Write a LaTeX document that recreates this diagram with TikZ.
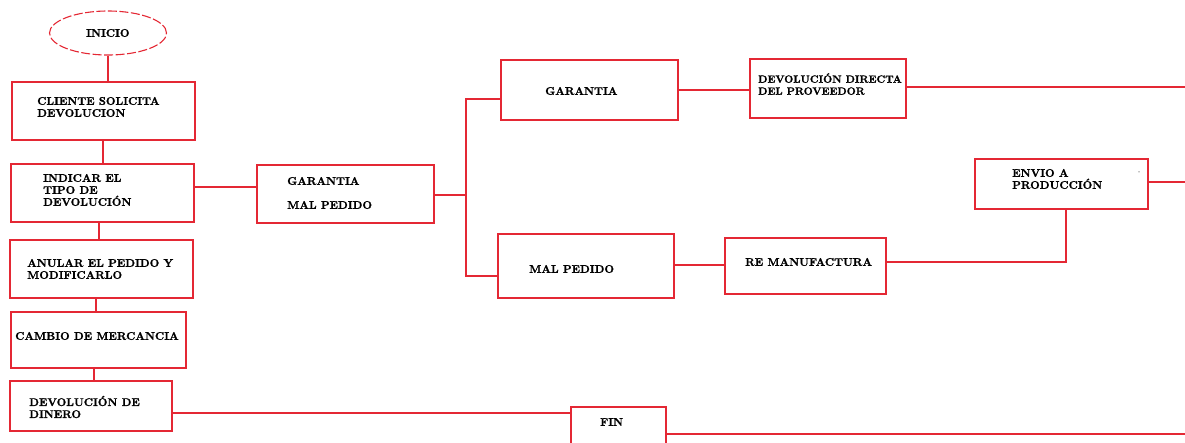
\documentclass[tikz,border=0pt]{standalone}
\usepackage{fontspec}
\usetikzlibrary{shapes.geometric}
\newfontfamily\boxfont{lmroman10-bold}[Extension=.otf,FakeBold=1.3]
\definecolor{flowred}{RGB}{228,40,52}
\begin{document}
\begin{tikzpicture}[x=1pt,y=-1pt,
  box/.style={draw=flowred,line width=1.6pt,rectangle,inner sep=0pt,anchor=north west},
  txt/.style={anchor=west,inner sep=0pt,align=left,font=\boxfont\fontsize{11.1}{12}\selectfont},
  link/.style={draw=flowred,line width=1.6pt}]
\useasboundingbox (0,0) rectangle (1185,442);
\clip (0,0) rectangle (1185,442);
% start
\node[draw=flowred,dash pattern=on 9pt off 2.5pt,line width=1.1pt,ellipse,minimum width=117pt,minimum height=44pt] (inicio) at (108,33) {};
\node[txt] (tinicio) at (86,33) {INICIO};
% left column
\node[box,minimum width=183pt,minimum height=58pt] (cliente) at (11,81) {};
\node[txt] (tcliente) at (37,107) {CLIENTE SOLICITA\\DEVOLUCION};
\node[box,minimum width=183pt,minimum height=58pt] (indicar) at (10,163) {};
\node[txt] (tindicar) at (43,190) {INDICAR EL\\TIPO DE\\DEVOLUCIÓN};
\node[box,minimum width=183pt,minimum height=58pt] (anular) at (9,239) {};
\node[txt] (tanular) at (27,269) {ANULAR EL PEDIDO Y\\MODIFICARLO};
\node[box,minimum width=175pt,minimum height=56pt] (cambio) at (10,311) {};
\node[txt] (tcambio) at (15,336) {CAMBIO DE MERCANCIA};
\node[box,minimum width=162pt,minimum height=50pt] (dinero) at (9,380) {};
\node[txt] (tdinero) at (29,407) {DEVOLUCIÓN DE\\DINERO};
\node[box,minimum width=95pt,minimum height=50pt] (fin) at (570,406) {};
\node[txt] (tfin) at (600,422) {FIN};
% middle
\node[box,minimum width=177pt,minimum height=58pt] (tipo) at (256,164) {};
\node[txt,font=\boxfont\fontsize{11.1}{24}\selectfont] (ttipo) at (287,193) {GARANTIA\\MAL PEDIDO};
\node[box,minimum width=177pt,minimum height=60pt] (garantia) at (500,59) {};
\node[txt] (tgarantia) at (545,91) {GARANTIA};
\node[box,minimum width=176pt,minimum height=64pt] (malpedido) at (497,233) {};
\node[txt] (tmalpedido) at (529,269) {MAL PEDIDO};
% right
\node[box,minimum width=156pt,minimum height=59pt] (directa) at (749,58) {};
\node[txt,font=\boxfont\fontsize{10.5}{12}\selectfont] (tdirecta) at (758,84) {DEVOLUCIÓN DIRECTA\\DEL PROVEEDOR};
\node[box,minimum width=161pt,minimum height=56pt] (manufactura) at (724,237) {};
\node[txt] (tmanufactura) at (745,262) {RE MANUFACTURA};
\node[box,minimum width=173pt,minimum height=50pt] (envio) at (974,158) {};
\node[txt] (tenvio) at (1012,179) {ENVIO A\\PRODUCCIÓN};
\node[txt,font=\tiny] (dot) at (1138,173) {-};
% loose ends leaving the page
\coordinate (outA) at (1185,87);
\coordinate (outB) at (1185,182);
\coordinate (outC) at (1185,434);
\coordinate (split) at (466,195);
% connectors
\draw[link] (inicio.south) -- (inicio.south |- cliente.north);
\draw[link] (cliente.south -| 103,0) -- (indicar.north -| 103,0);
\draw[link] (indicar.south -| 99,0) -- (anular.north -| 99,0);
\draw[link] (anular.south -| 96,0) -- (cambio.north -| 96,0);
\draw[link] (cambio.south -| 94,0) -- (dinero.north -| 94,0);
\draw[link] (indicar.east |- 0,187) -- (tipo.west |- 0,187);
\draw[link] (tipo.east |- split) -- (split) |- (garantia.west |- 0,99);
\draw[link] (split) |- (malpedido.west |- 0,276);
\draw[link] (garantia.east |- 0,90) -- (directa.west |- 0,90);
\draw[link] (directa.east |- outA) -- (outA);
\draw[link] (malpedido.east |- 0,265) -- (manufactura.west |- 0,265);
\draw[link] (manufactura.east |- 0,262) -| (envio.south -| 1066,0);
\draw[link] (envio.east |- outB) -- (outB);
\draw[link] (dinero.east |- 0,413) -- (fin.west |- 0,413);
\draw[link] (fin.east |- outC) -- (outC);
\end{tikzpicture}
\end{document}
